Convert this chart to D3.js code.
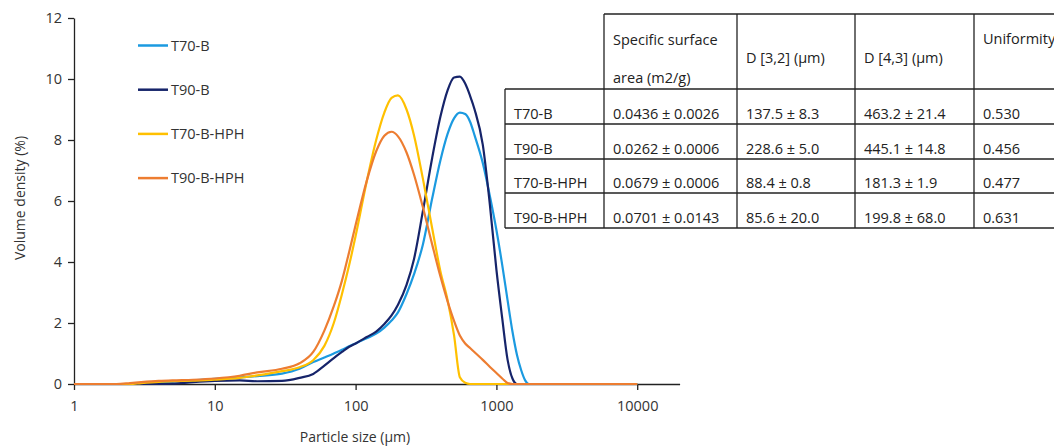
<!DOCTYPE html>
<html>
<head>
<meta charset="utf-8">
<script src="https://cdn.jsdelivr.net/npm/d3@7"></script>
<style>
  body { margin: 0; background: #fff; }
  text { font-family: "Open Sans", sans-serif; }
</style>
</head>
<body>
<div id="chart"></div>
<script>
// particle size grid (µm)
const sizes = [1, 2, 2.5, 3, 4, 5, 7, 10, 15, 20, 30, 40, 50, 60, 70, 80, 90, 100, 120, 140, 160, 180, 200, 230, 260, 300, 350, 400, 450, 500, 550, 600, 650, 700, 800, 900, 1000, 1100, 1200, 1300, 1400, 1500, 1600, 1700, 2000, 10000];

// volume density (%) per sample
const t70b = [0, 0, 0, 0.02, 0.05, 0.08, 0.12, 0.17, 0.22, 0.26, 0.34, 0.5, 0.72, 0.87, 1.0, 1.12, 1.24, 1.33, 1.5, 1.65, 1.85, 2.08, 2.35, 2.95, 3.6, 4.56, 6.09, 7.33, 8.2, 8.71, 8.9, 8.85, 8.6, 8.15, 7.25, 6.15, 5.05, 3.9, 2.75, 1.72, 0.95, 0.45, 0.12, 0, 0, 0];
const t90b = [0, 0, 0, 0, 0, 0.01, 0.06, 0.1, 0.12, 0.09, 0.1, 0.2, 0.33, 0.6, 0.85, 1.05, 1.22, 1.33, 1.54, 1.72, 1.97, 2.25, 2.6, 3.25, 4.1, 5.65, 7.42, 8.76, 9.63, 10.05, 10.08, 9.85, 9.45, 9.0, 7.85, 5.85, 3.75, 2.15, 0.8, 0.18, 0, 0, 0, 0, 0, 0];
const t70bhph = [0, 0, 0, 0.03, 0.07, 0.09, 0.11, 0.14, 0.2, 0.28, 0.42, 0.55, 0.78, 1.25, 2.0, 2.95, 3.9, 4.85, 6.65, 8.0, 8.9, 9.38, 9.46, 9.0, 8.15, 6.75, 5.1, 3.7, 2.75, 1.6, 0.22, 0.04, 0, 0, 0, 0, 0, 0, 0, 0, 0, 0, 0, 0, 0, 0];
const t90bhph = [0, 0, 0.03, 0.06, 0.1, 0.12, 0.14, 0.18, 0.27, 0.38, 0.5, 0.68, 1.05, 1.75, 2.55, 3.39, 4.33, 5.21, 6.66, 7.63, 8.14, 8.27, 8.12, 7.59, 6.86, 5.81, 4.57, 3.53, 2.71, 2.07, 1.59, 1.33, 1.18, 1.04, 0.79, 0.56, 0.36, 0.18, 0.03, 0, 0, 0, 0, 0, 0, 0];

const seriesNames = ["T70-B", "T90-B", "T70-B-HPH", "T90-B-HPH"];
const seriesColors = ["#1b9ae0", "#16246a", "#ffc000", "#ed7d31"];
const seriesValues = [t70b, t90b, t70bhph, t90bhph];

const xTicks = [1, 10, 100, 1000, 10000];
const yTicks = [0, 2, 4, 6, 8, 10, 12];

// table
const tableHeaders = ["Specific surface|area (m2/g)", "D [3,2] (µm)", "D [4,3] (µm)", "Uniformity"];
const tableRows = ["T70-B", "T90-B", "T70-B-HPH", "T90-B-HPH"];
const tableCells = [
  ["0.0436 ± 0.0026", "137.5 ± 8.3", "463.2 ± 21.4", "0.530"],
  ["0.0262 ± 0.0006", "228.6 ± 5.0", "445.1 ± 14.8", "0.456"],
  ["0.0679 ± 0.0006", "88.4 ± 0.8", "181.3 ± 1.9", "0.477"],
  ["0.0701 ± 0.0143", "85.6 ± 20.0", "199.8 ± 68.0", "0.631"]
];

const width = 1054;
const height = 447;
const fontSize = 14.5;
const textColor = "#333";

const svg = d3.select("#chart").append("svg")
  .attr("width", width)
  .attr("height", height);

const x = d3.scaleLog().domain([1, 20000]).range([74, 679.6]);
const y = d3.scaleLinear().domain([0, 12]).range([384, 18]);

// axes
const xAxis = svg.append("g")
  .attr("transform", `translate(0,${y(0)})`)
  .call(d3.axisBottom(x).tickValues(xTicks).tickFormat(d3.format("d")).tickSize(6).tickSizeOuter(0).tickPadding(11));

const yAxis = svg.append("g")
  .attr("transform", `translate(${x(1)},0)`)
  .call(d3.axisLeft(y).tickValues(yTicks).tickSize(6).tickSizeOuter(0).tickPadding(6));

[xAxis, yAxis].forEach(a => {
  a.select(".domain").attr("stroke", "#222").attr("stroke-width", 1.3);
  a.selectAll(".tick line").attr("stroke", "#222").attr("stroke-width", 1.3);
  a.selectAll(".tick text")
    .attr("fill", textColor)
    .style("font-family", "'Open Sans', sans-serif")
    .style("font-size", fontSize + "px");
});

svg.append("text")
  .attr("x", 355)
  .attr("y", 442)
  .attr("text-anchor", "middle")
  .attr("fill", textColor)
  .style("font-size", "14px")
  .text("Particle size (µm)");

svg.append("text")
  .attr("transform", "translate(25,198) rotate(-90)")
  .attr("text-anchor", "middle")
  .attr("fill", textColor)
  .style("font-size", "14px")
  .text("Volume density (%)");

// lines
const line = d3.line()
  .x(d => x(d[0]))
  .y(d => y(d[1]))
  .curve(d3.curveMonotoneX);

seriesValues.forEach((vals, i) => {
  svg.append("path")
    .datum(sizes.map((s, j) => [s, vals[j]]))
    .attr("fill", "none")
    .attr("stroke", seriesColors[i])
    .attr("stroke-width", 2.2)
    .attr("d", line);
});

// legend
const legend = svg.append("g");
seriesNames.forEach((name, i) => {
  const ly = 45.5 + i * 44.2;
  legend.append("line")
    .attr("x1", 138).attr("x2", 168)
    .attr("y1", ly).attr("y2", ly)
    .attr("stroke", seriesColors[i])
    .attr("stroke-width", 2.5);
  legend.append("text")
    .attr("x", 171)
    .attr("y", ly)
    .attr("dy", "0.36em")
    .attr("fill", textColor)
    .style("font-size", fontSize + "px")
    .text(name);
});

// table
const colX = [505, 604, 737, 855, 974, 1100];
const rowY = [14, 89, 124, 159, 193, 228];
const tbl = svg.append("g");
const stroke = "#222";

// horizontal rules
tbl.append("line").attr("x1", colX[1]).attr("x2", colX[5]).attr("y1", rowY[0]).attr("y2", rowY[0]);
rowY.slice(1).forEach(ry => {
  tbl.append("line").attr("x1", colX[0]).attr("x2", colX[5]).attr("y1", ry).attr("y2", ry);
});
// vertical rules
colX.forEach((cx, i) => {
  tbl.append("line")
    .attr("x1", cx).attr("x2", cx)
    .attr("y1", i === 0 ? rowY[1] : rowY[0])
    .attr("y2", rowY[5]);
});
tbl.selectAll("line").attr("stroke", stroke).attr("stroke-width", 1.3);

// header text
const headerBase = [[45, 83], [63], [63], [44]];
tableHeaders.forEach((h, i) => {
  h.split("|").forEach((part, k) => {
    tbl.append("text")
      .attr("x", colX[i + 1] + 9)
      .attr("y", headerBase[i][k])
      .attr("fill", "#222")
      .style("font-size", fontSize + "px")
      .text(part);
  });
});

// body text
tableRows.forEach((r, i) => {
  const by = rowY[i + 2] - 5;
  tbl.append("text")
    .attr("x", colX[0] + 9).attr("y", by)
    .attr("fill", "#222")
    .style("font-size", fontSize + "px")
    .text(r);
  tableCells[i].forEach((c, j) => {
    tbl.append("text")
      .attr("x", colX[j + 1] + 9).attr("y", by)
      .attr("fill", "#222")
      .style("font-size", fontSize + "px")
      .text(c);
  });
});
</script>
</body>
</html>
